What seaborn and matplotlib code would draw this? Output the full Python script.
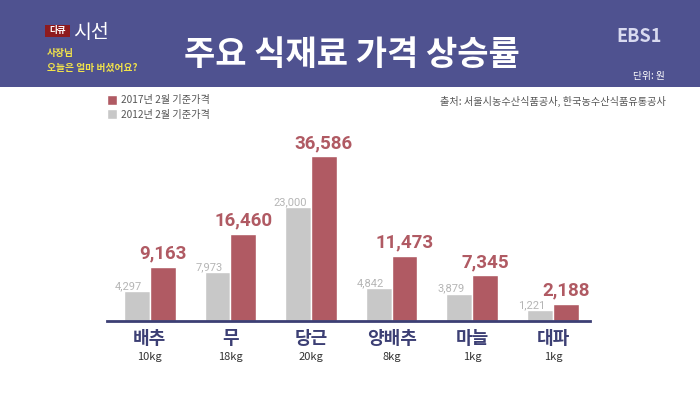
import numpy as np
import pandas as pd
import seaborn as sns
import matplotlib.pyplot as plt
from matplotlib.patches import Rectangle

# data
items = ["배추", "무", "당근", "양배추", "마늘", "대파"]
units = ["10kg", "18kg", "20kg", "8kg", "1kg", "1kg"]
price_2012 = [4297, 7973, 23000, 4842, 3879, 1221]
price_2017 = [9163, 16460, 36586, 11473, 7345, 2188]
series = ["2012년 2월 기준가격", "2017년 2월 기준가격"]

df = pd.DataFrame({
    "품목": items * 2,
    "구분": [series[0]] * len(items) + [series[1]] * len(items),
    "가격": price_2012 + price_2017,
})

sns.set_theme(style="white")
plt.rcParams["font.family"] = ["Noto Sans CJK KR", "DejaVu Sans"]

GRAY = "#c8c8c8"
RED = "#b05a63"
NAVY = "#3c3f74"
HEADER = "#4f5290"

fig = plt.figure(figsize=(7, 3.93), dpi=100)
fig.patch.set_facecolor("white")

# header band
fig.patches.append(Rectangle((0, 1 - 87 / 393), 1, 87 / 393, transform=fig.transFigure,
                             facecolor=HEADER, edgecolor="none", zorder=0))
fig.text(0.502, 1 - 55 / 393, "주요 식재료 가격 상승률", color="white", fontsize=24.5,
         fontweight="bold", ha="center", va="center")
fig.text(0.913, 1 - 36 / 393, "EBS1", color="#d9daf0", fontsize=13, fontweight="bold",
         ha="center", va="center")
fig.text(0.95, 1 - 76 / 393, "단위: 원", color="white", fontsize=7, ha="right", va="center")

# program logo
fig.patches.append(Rectangle((45 / 700, 1 - 37 / 393), 25 / 700, 12 / 393, transform=fig.transFigure,
                             facecolor="#8e1b1f", edgecolor="none"))
fig.text(57.5 / 700, 1 - 31 / 393, "다큐", color="white", fontsize=6.5, fontweight="bold",
         ha="center", va="center")
fig.text(73 / 700, 1 - 32 / 393, "시선", color="white", fontsize=14, fontweight="light",
         ha="left", va="center")
fig.text(47 / 700, 1 - 53 / 393, "사장님", color="#f2e34a", fontsize=7, fontweight="bold",
         ha="left", va="center")
fig.text(47 / 700, 1 - 68 / 393, "오늘은 얼마 버셨어요?", color="#f2e34a", fontsize=7,
         fontweight="bold", ha="left", va="center")

fig.text(666 / 700, 1 - 101 / 393, "출처: 서울시농수산식품공사, 한국농수산식품유통공사",
         color="#555555", fontsize=7.3, ha="right", va="center")

ax = fig.add_axes([107 / 700, 72 / 393, 483 / 700, 181 / 393])
sns.barplot(data=df, x="품목", y="가격", hue="구분", hue_order=series,
            palette=[GRAY, RED], width=0.64, gap=0, saturation=1, ax=ax)

# the original graphic compresses tall bars, roughly like a 0.8 power scale
ax.set_yscale("function", functions=(lambda v: np.sign(v) * np.abs(v) ** 0.8,
                                     lambda v: np.sign(v) * np.abs(v) ** 1.25))
ax.set_ylim(0, 41130)
ax.set_xlim(-0.53, 5.46)
ax.set_xlabel("")
ax.set_ylabel("")
ax.set_yticks([])
ax.minorticks_off()
ax.tick_params(axis="y", which="both", left=False, labelleft=False)
for side in ["left", "right", "top"]:
    ax.spines[side].set_visible(False)
ax.spines["bottom"].set_color(NAVY)
ax.spines["bottom"].set_linewidth(2)

gray_labels = ax.bar_label(ax.containers[0], fmt="{:,.0f}", padding=0, color="#b5b5b5",
                           fontsize=8, family="Roboto")
for t in gray_labels:
    t.xyann = (t.xyann[0] - 6, t.xyann[1])
ax.bar_label(ax.containers[1], fmt="{:,.0f}", padding=3, color=RED, fontsize=13.5,
             fontweight="bold", family="Roboto")

ax.set_xticks(range(len(items)))
ax.set_xticklabels(items, fontsize=13, fontweight="bold", color=NAVY)
ax.tick_params(axis="x", length=0, pad=6)
for i, u in enumerate(units):
    ax.text(i, -0.2, u, transform=ax.get_xaxis_transform(), ha="center", va="center",
            fontsize=8, color="#333333")

handles, labels = ax.get_legend_handles_labels()
ax.legend(handles[::-1], labels[::-1], loc="upper left", bbox_to_anchor=(0, 1 + 45 / 181),
          frameon=False, fontsize=7.3, labelcolor="#555555", handlelength=1.0, handleheight=1.1,
          handletextpad=0.4, labelspacing=0.4, borderaxespad=0, borderpad=0)

fig.savefig("out.png", dpi=100, facecolor=fig.get_facecolor())
